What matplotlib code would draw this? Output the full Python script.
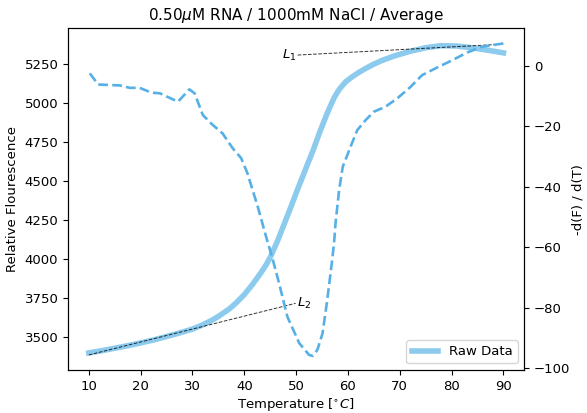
import matplotlib
matplotlib.use("Agg")
import matplotlib.pyplot as plt
import numpy as np

# raw fluorescence (left axis)
temp_raw = [10, 12.5, 15, 17.5, 20, 22.5, 25, 27.5, 30, 32, 34, 35, 37.1, 38.4,
            40, 41.6, 43, 44.2, 45.1, 46.4, 47.7, 49.0, 50.2, 51.5, 52.4, 53.3,
            54.0, 54.7, 55.4, 56.0, 56.7, 57.3, 58.0, 58.6, 59.6, 60.8, 62.0,
            63.4, 65.0, 66.6, 69, 72, 75, 78, 81, 84, 87, 90]
fluor_raw = [3398, 3412, 3428, 3444, 3462, 3481, 3503, 3526, 3551, 3578, 3612,
             3632, 3680, 3718, 3772, 3838, 3902, 3962, 4018, 4115, 4225, 4335,
             4440, 4549, 4625, 4699, 4764, 4827, 4885, 4935, 4988, 5032, 5072,
             5100, 5138, 5168, 5195, 5222, 5250, 5274, 5303, 5332, 5355, 5368,
             5366, 5354, 5339, 5322]

# derivative -dF/dT (right axis)
temp_d = [10.2, 11.8, 16, 17.9, 19.8, 22.1, 23.7, 27.2, 29.4, 30.4, 32, 33.6,
          35.8, 37.8, 39.4, 40.6, 42.6, 44.2, 45.4, 46.7, 48.3, 50.6, 52.5,
          53.2, 54.1, 55.1, 56.0, 56.8, 57.3, 57.6, 58.3, 59.0, 60.5, 61.8,
          63.4, 65, 67.2, 69.5, 72, 74.3, 77.5, 79, 81.3, 83, 85.8, 88, 90]
deriv = [-2.4, -6.1, -6.4, -7.2, -7.2, -8.8, -9.0, -11.8, -7.7, -9.0, -16.2,
         -19, -22.3, -27.3, -30.5, -35.5, -46.6, -56.5, -63.5, -71.9, -83, -91.8,
         -95.7, -96, -94, -88.5, -77.5, -66.4, -59, -52, -41, -33.3, -26.7,
         -21.2, -17.9, -15.1, -13.5, -10.7, -7, -3, -0.2, 1, 3, 4.5, 6.4, 7,
         7.5]

# baselines L1 / L2 (left-axis units)
l1_t = [50.3, 90]
l1_f = [5308, 5378]
l2_t = [10, 49.9]
l2_f = [3385, 3716]

raw_color = "#8ccbee"
deriv_color = "#56b0e6"

plt.rcParams["font.size"] = 9.5

fig, ax = plt.subplots(figsize=(5.87, 4.13), dpi=100)
fig.subplots_adjust(left=0.116, right=0.893, bottom=0.104, top=0.932)

ax.plot(temp_raw, fluor_raw, color=raw_color, lw=4, label="Raw Data",
        solid_joinstyle="round")
ax.plot(l1_t, l1_f, color="k", ls="--", lw=0.7, alpha=0.8)
ax.plot(l2_t, l2_f, color="k", ls="--", lw=0.7, alpha=0.8)
ax.text(l1_t[0] - 0.3, l1_f[0], "$L_1$", ha="right", va="center")
ax.text(l2_t[1] + 0.3, l2_f[1], "$L_2$", ha="left", va="center")

ax.set_xlim(6, 94)
ax.set_ylim(3288, 5481)
ax.set_xticks(np.arange(10, 91, 10))
ax.set_yticks(np.arange(3500, 5251, 250))
ax.set_xlabel(r"Temperature [$^{\circ}C$]", labelpad=2)
ax.set_ylabel("Relative Flourescence")
ax.set_title(r"0.50$\mu$M RNA / 1000mM NaCl / Average", fontsize=11)
ax.legend(loc="lower right")

ax2 = ax.twinx()
ax2.plot(temp_d, deriv, color=deriv_color, ls="--", lw=1.9)
ax2.set_ylim(-100.7, 12.6)
ax2.set_yticks(np.arange(-100, 1, 20))
ax2.set_ylabel("-d(F) / d(T)", labelpad=1)

fig.savefig("out.png", dpi=100)
